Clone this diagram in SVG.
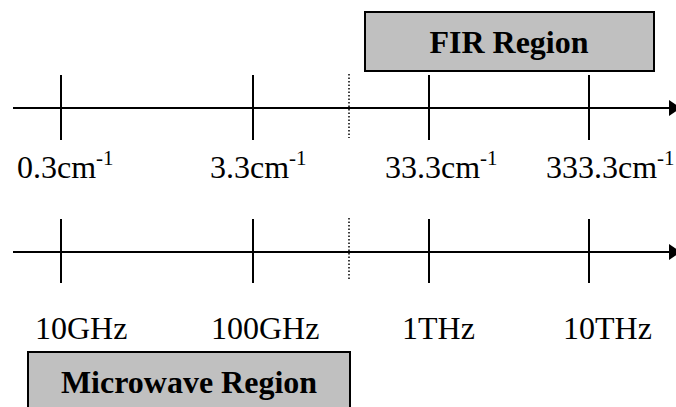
<svg xmlns="http://www.w3.org/2000/svg" width="676" height="407" viewBox="0 0 676 407">
<style>
.box{fill:#c0c0c0;stroke:#000;stroke-width:2}
.ax{stroke:#000;stroke-width:2;fill:none}
.tk{stroke:#000;stroke-width:2}
.dot{stroke:#000;stroke-width:1.5;stroke-dasharray:1.5 2}
.lbl{font-family:'Liberation Serif','Times New Roman',serif;font-size:32px;fill:#000}
.sup{font-size:21px}
.bt{font-family:'Liberation Serif','Times New Roman',serif;font-size:32px;font-weight:bold;fill:#000;text-anchor:middle}
</style>
<defs>
<marker id="ah2" viewBox="0 0 12 16" refX="0" refY="8" markerWidth="12" markerHeight="16" markerUnits="userSpaceOnUse" orient="auto">
<path d="M0,0 L12,8 L0,16 Z" fill="#000"/>
</marker>
</defs>
<g id="fir-region">
<rect class="box" x="365" y="12" width="289" height="59"/>
<text class="bt" x="509" y="53">FIR Region</text>
</g>
<g id="microwave-region">
<rect class="box" x="28" y="352" width="322" height="70"/>
<text class="bt" x="189" y="393">Microwave Region</text>
</g>
<g id="connectors">
<line class="ax" x1="13" y1="108" x2="669" y2="108" marker-end="url(#ah2)"/>
<line class="ax" x1="13" y1="252" x2="669" y2="252" marker-end="url(#ah2)"/>
<line class="tk" x1="61" y1="75" x2="61" y2="140"/>
<line class="tk" x1="253" y1="75" x2="253" y2="140"/>
<line class="tk" x1="429" y1="75" x2="429" y2="140"/>
<line class="tk" x1="589" y1="75" x2="589" y2="140"/>
<line class="tk" x1="61" y1="219" x2="61" y2="283"/>
<line class="tk" x1="253" y1="219" x2="253" y2="283"/>
<line class="tk" x1="429" y1="219" x2="429" y2="283"/>
<line class="tk" x1="589" y1="219" x2="589" y2="283"/>
<line class="dot" x1="349" y1="74" x2="349" y2="138"/>
<line class="dot" x1="349" y1="218" x2="349" y2="281"/>
</g>
<g id="labels-wavenumber">
<text class="lbl" x="17" y="178">0.3cm<tspan class="sup" dy="-13">-1</tspan></text>
<text class="lbl" x="210" y="178">3.3cm<tspan class="sup" dy="-13">-1</tspan></text>
<text class="lbl" x="385" y="178">33.3cm<tspan class="sup" dy="-13">-1</tspan></text>
<text class="lbl" x="546" y="178">333.3cm<tspan class="sup" dy="-13">-1</tspan></text>
</g>
<g id="labels-frequency">
<text class="lbl" x="35" y="339">10GHz</text>
<text class="lbl" x="211" y="339">100GHz</text>
<text class="lbl" x="402" y="339">1THz</text>
<text class="lbl" x="563" y="339">10THz</text>
</g>
</svg>
